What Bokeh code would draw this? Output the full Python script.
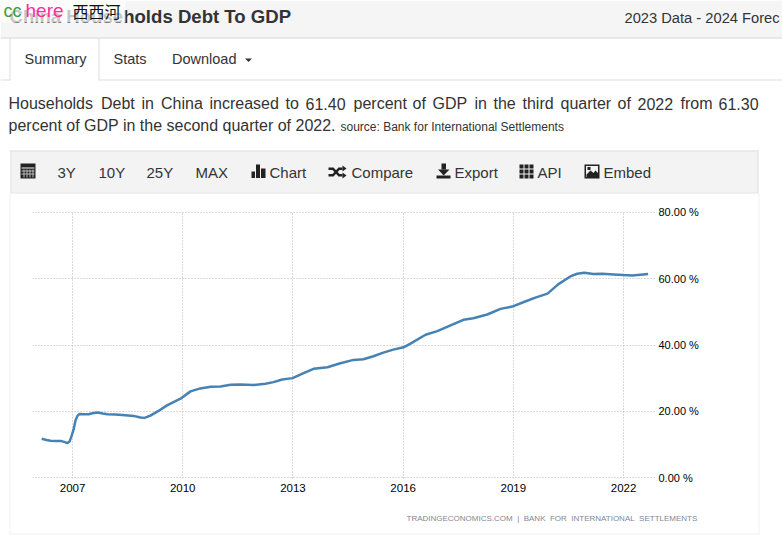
from bokeh.plotting import figure
from bokeh.embed import file_html
from bokeh.resources import INLINE
from bokeh.models import Label, BoxAnnotation, PolyAnnotation, FixedTicker, Range1d, CustomJSTickFormatter

years = [2006.16,2006.29,2006.40,2006.54,2006.70,2006.81,2006.86,2006.92,2006.97,2007.03,2007.08,2007.14,2007.19,2007.30,2007.44,2007.54,2007.68,2007.82,2007.95,2008.17,2008.44,2008.66,2008.85,2008.96,2009.12,2009.34,2009.56,2009.72,2009.94,2010.21,2010.48,2010.76,2011.03,2011.30,2011.57,2011.93,2012.25,2012.47,2012.71,2012.99,2013.29,2013.56,2013.94,2014.29,2014.65,2014.92,2015.19,2015.46,2015.73,2016.01,2016.20,2016.61,2016.93,2017.29,2017.64,2017.91,2018.29,2018.65,2018.97,2019.27,2019.60,2019.93,2020.22,2020.55,2020.74,2020.93,2021.18,2021.42,2021.72,2021.99,2022.24,2022.46,2022.67]
debt = [11.7,11.3,11.1,11.0,11.0,10.6,10.4,10.9,12.4,14.5,17.2,18.7,19.2,19.1,19.1,19.4,19.6,19.3,19.1,19.0,18.8,18.6,18.1,18.0,18.7,20.1,21.7,22.6,23.8,26.0,26.9,27.4,27.5,28.0,28.1,27.9,28.3,28.8,29.6,30.0,31.5,32.8,33.3,34.5,35.5,35.7,36.6,37.7,38.6,39.3,40.4,43.1,44.2,45.9,47.6,48.1,49.2,50.9,51.6,52.9,54.3,55.5,58.3,60.7,61.5,61.8,61.4,61.5,61.3,61.1,61.0,61.2,61.4]
x_ticks = [2007,2010,2013,2016,2019,2022]
y_ticks = [0,20,40,60,80]
W, H = 782, 547

# page chrome figure: its frame fills the whole canvas
bg = figure(width=W, height=H, output_backend="svg", toolbar_location=None,
            x_axis_type=None, y_axis_type=None, x_range=Range1d(0, W), y_range=Range1d(0, H),
            min_border=0, outline_line_color=None, background_fill_color="white", border_fill_color="white")
bg.grid.visible = False
bg.styles = {"position": "absolute", "left": "0px", "top": "0px"}

# chart figure sits over the white panel
CL, CT, CW, CH = 11, 194, 746, 312
L, R, T, BTM = 32, 655, 211, 478
p = figure(width=CW, height=CH, output_backend="svg", toolbar_location=None,
           x_range=Range1d(2005.91, 2022.87), y_range=Range1d(-0.3, 80.3),
           x_axis_location="below", y_axis_location="right",
           min_border_left=L-CL, min_border_right=CL+CW-R, min_border_top=T-CT, min_border_bottom=CT+CH-BTM,
           outline_line_color=None, background_fill_color="white", border_fill_color="white")
p.styles = {"position": "absolute", "left": f"{CL}px", "top": f"{CT}px"}

for ax, ticks in ((p.xaxis[0], x_ticks), (p.yaxis[0], y_ticks)):
    ax.ticker = FixedTicker(ticks=ticks)
    ax.axis_line_color = None
    ax.major_tick_line_color = None
    ax.minor_tick_line_color = None
    ax.major_tick_out = 0
    ax.major_tick_in = 0
    ax.major_label_text_color = "black"
    ax.major_label_text_font = "Liberation Sans"
p.xaxis[0].major_label_text_font_size = "11.5px"
p.yaxis[0].major_label_text_font_size = "11px"
p.xaxis[0].major_label_standoff = 5
p.yaxis[0].major_label_standoff = 3
p.xaxis[0].formatter = CustomJSTickFormatter(code="return tick.toFixed(0);")
p.yaxis[0].formatter = CustomJSTickFormatter(code="return tick.toFixed(2) + ' %';")
p.grid.grid_line_color = "#b4b4b4"
p.grid.grid_line_dash = "1 2"
p.grid.grid_line_width = 1

p.line(years, debt, line_color="#4682b4", line_width=2.5, line_join="round")

def box(l, r, t, b, fill, alpha=1.0):
    bg.add_layout(BoxAnnotation(left=l, right=r, top=H-t, bottom=H-b, left_units="screen", right_units="screen",
                                top_units="screen", bottom_units="screen", fill_color=fill, fill_alpha=alpha,
                                line_alpha=0))

def poly(pts, fill):
    bg.add_layout(PolyAnnotation(xs=[a for a, _ in pts], ys=[H-b for _, b in pts], xs_units="screen", ys_units="screen",
                                 fill_color=fill, fill_alpha=1.0, line_alpha=0))

def txt(x, y, s, size=16, color="#333333", style="normal", font="Liberation Sans", align="left"):
    # y is the baseline in page pixels; Label centres the text on its anchor here
    bg.add_layout(Label(x=x, y=H-(y-0.36*size), x_units="screen", y_units="screen", text=s, text_font=font,
                        text_font_size=f"{size}px", text_color=color, text_font_style=style,
                        text_baseline="middle", text_align=align))

# header band
box(0, W, 0, 37, "#f5f5f5")
box(0, W, 37, 38, "#d4d4d4")
txt(9, 23, "China Households Debt To GDP", 18.6, "#333333", "bold")
box(0, 125, 0, 22, "#ffffff", alpha=0.72)
txt(3, 17, "cc", 18, "#3aa03a")
txt(25, 17, "here", 19, "#ff2d9b")
txt(72, 16, "西西河", 16, "#111111", font="Noto Sans CJK SC")
txt(624, 23, "2023 Data - 2024 Forec", 14.7, "#333333")

# tabs
box(0, 10, 79, 80, "#dddddd")
box(98, W, 79, 80, "#dddddd")
box(9, 10, 38, 80, "#dddddd")
box(98, 99, 38, 80, "#dddddd")
txt(24, 64, "Summary", 14.5)
txt(113, 64, "Stats", 14.5)
txt(171.5, 64, "Download", 14.5)
poly([(244.5, 58), (251.5, 58), (248, 61.5)], "#333333")

# paragraph
line1 = [(8,"Households"),(100.5,"Debt"),(141,"in"),(160.5,"China"),(209,"increased"),(285,"to"),(305,"61.40"),(353,"percent"),(412,"of"),(432,"GDP"),(474,"in"),(493,"the"),(522,"third"),(560,"quarter"),(617,"of"),(637,"2022"),(680,"from"),(718,"61.30")]
for x, w in line1:
    txt(x, 109, w, 16)
txt(8, 131, "percent of GDP in the second quarter of 2022.", 16)
txt(340, 131, "source: Bank for International Settlements", 12)

# toolbar
box(10, 758, 150, 192, "#f3f3f3")
box(10, 758, 150, 151, "#e2e2e2")
box(10, 758, 192, 193, "#e2e2e2")
box(10, 11, 150, 193, "#e2e2e2")
box(757, 758, 150, 193, "#e2e2e2")
# panel border
box(9, 10, 193, 534, "#f2f2f2")
box(758, 759, 193, 534, "#f2f2f2")
box(9, 759, 533, 534, "#f2f2f2")
for x, s in [(57,"3Y"),(98,"10Y"),(146,"25Y"),(195,"MAX"),(269,"Chart"),(351,"Compare"),(454,"Export"),(537,"API"),(603,"Embed")]:
    txt(x, 177, s, 15)

ICON = "#222222"
# calendar
box(20, 35, 163, 178, ICON)
box(21, 34, 167, 168, "#f3f3f3")
for gx in (23, 26, 29, 32):
    box(gx, gx+1, 169, 177, "#bbbbbb")
for gy in (170, 173):
    box(21, 34, gy, gy+1, "#bbbbbb")
# bars
box(251, 254.5, 171, 177.5, ICON)
box(255.5, 259.5, 164, 177.5, ICON)
box(260.5, 265, 168, 177.5, ICON)
# shuffle
poly([(328,167),(333,167),(339,173.5),(342,173.5),(342,176),(338,176),(332,169.5),(328,169.5)], ICON)
poly([(328,176),(333,176),(339,169.5),(342,169.5),(342,167),(338,167),(332,173.5),(328,173.5)], ICON)
poly([(342,165),(346,168),(342,171)], ICON)
poly([(342,172),(346,175),(342,178)], ICON)
# download
box(441, 445.5, 163, 169, ICON)
poly([(437.5,169),(449,169),(443.2,175)], ICON)
box(436, 450, 175, 178, ICON)
# grid
for gx in (519, 524, 529):
    for gy in (164, 169, 174):
        box(gx, gx+4, gy, gy+4, ICON)
# picture
box(584, 599, 164, 178, ICON)
box(585.5, 597.5, 165.5, 176.5, "#f3f3f3")
poly([(586,176.5),(586,174),(590,170),(593,172.5),(595,170),(597.5,172.5),(597.5,176.5)], ICON)
box(587, 590, 166.5, 169.5, ICON)

txt(406, 521, "TRADINGECONOMICS.COM\u00a0\u00a0|\u00a0\u00a0BANK\u00a0\u00a0FOR\u00a0\u00a0INTERNATIONAL\u00a0\u00a0SETTLEMENTS", 8, "#7f8794")

open("out.html", "w").write(file_html((bg, p), INLINE))
